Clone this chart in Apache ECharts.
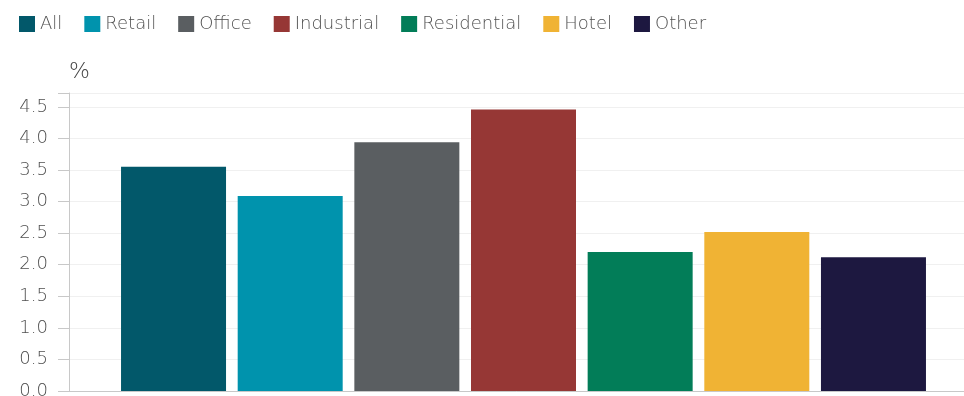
<!DOCTYPE html>
<html><head><meta charset="utf-8">
<script src="https://cdn.jsdelivr.net/npm/echarts@6/dist/echarts.min.js"></script>
<style>html,body{margin:0;padding:0;background:#fff}#c{width:964px;height:396px}</style>
</head><body><div id="c"></div>
<script>
const seriesNames = ['All','Retail','Office','Industrial','Residential','Hotel','Other'];
const seriesValues = [3.55, 3.09, 3.94, 4.46, 2.2, 2.52, 2.12];
const seriesColors = ['#02586a','#0093ad','#5a5e61','#963735','#027d58','#f0b334','#1d1840'];
const yTicks = [0,0.5,1,1.5,2,2.5,3,3.5,4,4.5];
const categories = [''];
const font = '"DejaVu Sans", sans-serif';
const chart = echarts.init(document.getElementById('c'));
chart.setOption({
  animation:false,
  textStyle:{fontFamily:font},
  legend:{left:14,top:10,itemWidth:16,itemHeight:16,itemGap:22,icon:'rect',
    textStyle:{fontSize:18,color:'#505050',fontFamily:font,fontWeight:200}},
  grid:{left:69,top:93,width:909,bottom:5,outerBoundsMode:'none',containLabel:false},
  xAxis:{type:'category',data:categories,axisLine:{lineStyle:{color:'#c8c8c8'}},
    axisTick:{show:false},axisLabel:{show:false}},
  yAxis:{type:'value',min:0,max:4.72,interval:0.5,name:'%',nameGap:10,
    nameTextStyle:{fontSize:22,color:'#444',align:'left',fontWeight:200,fontFamily:font},
    axisLine:{show:true,lineStyle:{color:'#c8c8c8'}},
    axisTick:{show:true,length:11,lineStyle:{color:'#c8c8c8'}},
    axisLabel:{fontSize:18,color:'#505050',margin:21,fontWeight:200,fontFamily:font,
      formatter:v=>yTicks.includes(Math.round(v*10)/10)?v.toFixed(1):''},
    splitLine:{lineStyle:{color:'#f0f0f0'}}},
  series:seriesNames.map((n,i)=>({name:n,type:'bar',data:[seriesValues[i]],barWidth:105,
    barGap:'11.1%',itemStyle:{color:seriesColors[i]}}))
});
</script></body></html>
